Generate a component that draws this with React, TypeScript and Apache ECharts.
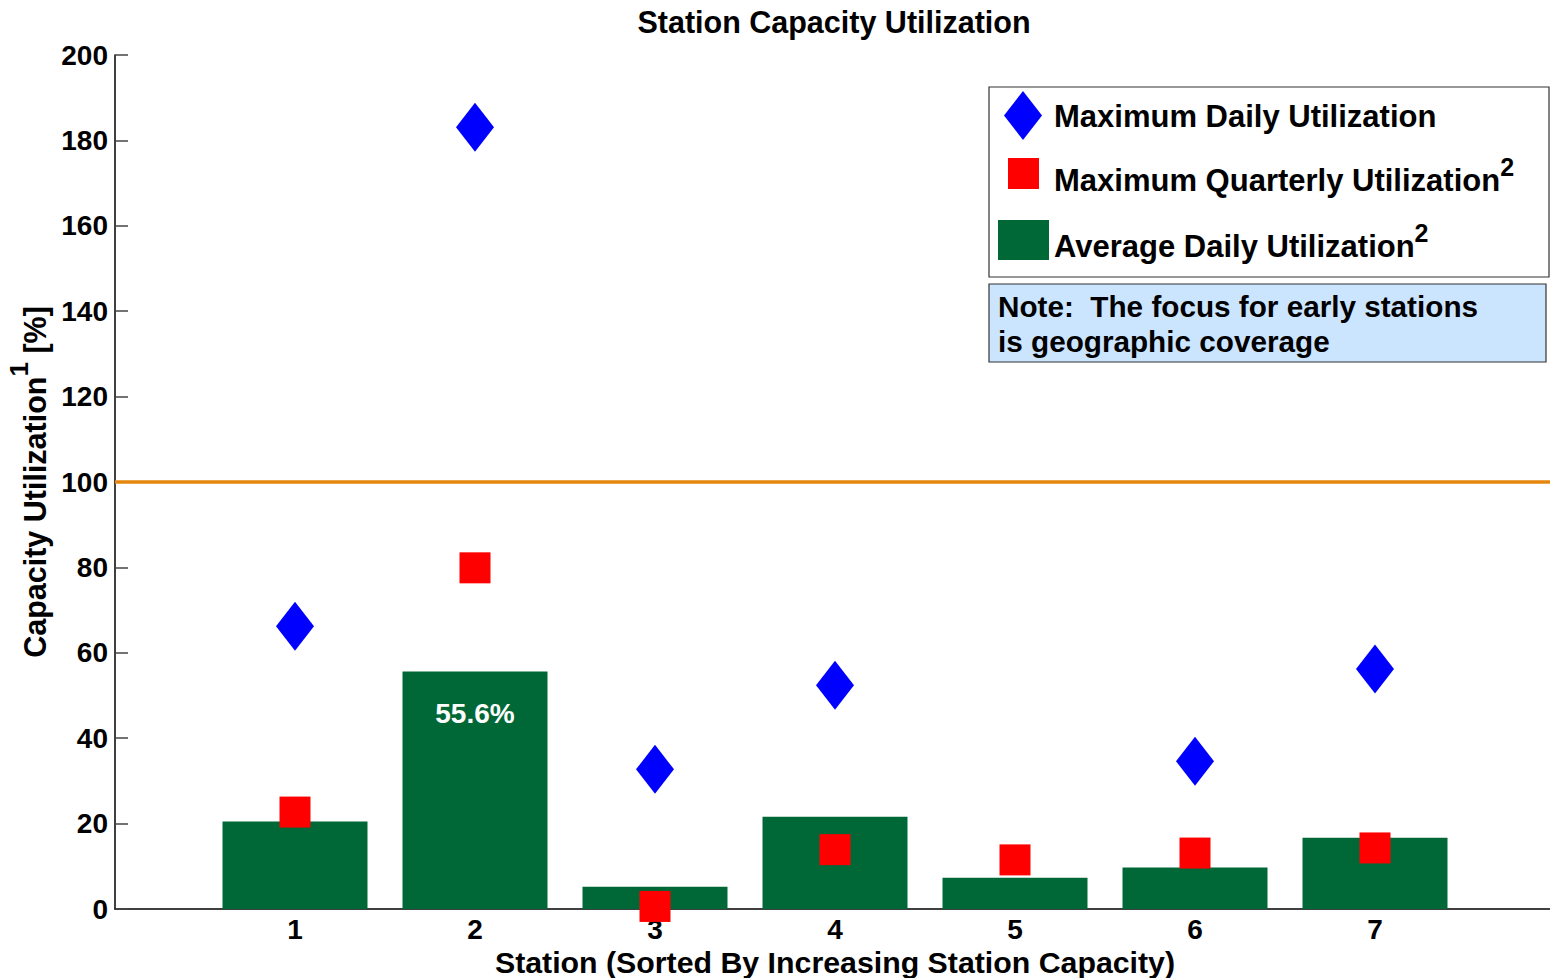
import React, { useEffect, useRef } from "react";
import * as echarts from "echarts";

const stations = [1, 2, 3, 4, 5, 6, 7];
const avgDaily = [20.5, 55.6, 5.2, 21.6, 7.3, 9.7, 16.7];
const maxQuarterly = [22.7, 79.9, 0.6, 13.9, 11.5, 13.1, 14.3];
const maxDaily: (number | null)[] = [66.2, 183.1, 32.7, 52.4, null, 34.6, 56.2];
const referenceLevel = 100;
const labeledStation = 2;

const FONT = "'Liberation Sans', Arial, Helvetica, sans-serif";

export default function App() {
  const ref = useRef<HTMLDivElement>(null);

  useEffect(() => {
    if (!ref.current) return;
    const chart = echarts.init(ref.current, null, { renderer: "svg" });

    const main = { fontSize: 31, fontWeight: "bold", fontFamily: FONT, color: "#000", lineHeight: 52 };
    const sup = { fontSize: 25, fontWeight: "bold", fontFamily: FONT, color: "#000", lineHeight: 24, verticalAlign: "top" };

    const option: any = {
      animation: false,
      backgroundColor: "#fff",
      title: {
        text: "Station Capacity Utilization",
        left: 829,
        textAlign: "center",
        top: 1,
        textStyle: { fontSize: 30.5, fontWeight: "bold", fontFamily: FONT, color: "#000" },
      },
      grid: { left: 115, right: -5, top: 55, bottom: 69, containLabel: false, outerBoundsMode: "none" },
      xAxis: {
        type: "value",
        min: 0,
        max: 8,
        interval: 1,
        name: "Station (Sorted By Increasing Station Capacity)",
        nameLocation: "middle",
        nameGap: 35,
        nameTextStyle: { fontSize: 30.3, fontWeight: "bold", fontFamily: FONT, color: "#000" },
        axisLine: { show: true, lineStyle: { color: "#000", width: 1.5 } },
        axisTick: { show: false },
        splitLine: { show: false },
        axisLabel: {
          margin: 6,
          fontSize: 28,
          fontWeight: "bold",
          fontFamily: FONT,
          color: "#000",
          formatter: (v: number) => (v >= 1 && v <= 7 ? String(v) : ""),
        },
      },
      yAxis: {
        type: "value",
        min: 0,
        max: 200,
        interval: 20,
        name: "{a|Capacity Utilization}{s|1}{a| [%]}",
        nameLocation: "middle",
        nameGap: 50,
        nameRotate: 90,
        nameTextStyle: {
          rich: {
            a: { fontSize: 30.5, fontWeight: "bold", fontFamily: FONT, color: "#000", lineHeight: 58 },
            s: { fontSize: 26, fontWeight: "bold", fontFamily: FONT, color: "#000", lineHeight: 24, verticalAlign: "top" },
          },
        },
        axisLine: { show: true, lineStyle: { color: "#000", width: 1.5 } },
        axisTick: { show: true, inside: true, length: 13, lineStyle: { color: "#444", width: 1.5 } },
        splitLine: { show: false },
        axisLabel: { margin: 7, fontSize: 28, fontWeight: "bold", fontFamily: FONT, color: "#000" },
      },
      series: [
        {
          name: "Average Daily Utilization",
          type: "bar",
          barWidth: 145,
          itemStyle: { color: "#006837" },
          data: stations.map((s, i) => ({
            value: [s, avgDaily[i]],
            label:
              s === labeledStation
                ? {
                    show: true,
                    position: "insideTop",
                    distance: 28,
                    formatter: (p: any) => `${p.value[1].toFixed(1)}%`,
                    color: "#fff",
                    fontSize: 28,
                    fontWeight: "bold",
                    fontFamily: FONT,
                  }
                : { show: false },
          })),
          markLine: {
            silent: true,
            symbol: "none",
            label: { show: false },
            lineStyle: { color: "#E5870F", width: 3.5, type: "solid" },
            data: [{ yAxis: referenceLevel }],
          },
          z: 2,
        },
        {
          name: "Maximum Quarterly Utilization",
          type: "scatter",
          symbol: "rect",
          symbolSize: [31, 31],
          clip: false,
          itemStyle: { color: "#FF0000", opacity: 1 },
          data: stations.map((s, i) => [s, maxQuarterly[i]]),
          z: 3,
        },
        {
          name: "Maximum Daily Utilization",
          type: "scatter",
          symbol: "diamond",
          symbolSize: [38, 49],
          clip: false,
          itemStyle: { color: "#0000FF", opacity: 1 },
          data: stations
            .map((s, i) => (maxDaily[i] == null ? null : [s, maxDaily[i]]))
            .filter((d) => d !== null),
          z: 4,
        },
      ],
      graphic: [
        {
          type: "rect",
          shape: { x: 989, y: 87, width: 560, height: 190 },
          style: { fill: "#fff", stroke: "#333", lineWidth: 1.2 },
          z: 10,
        },
        {
          type: "polygon",
          shape: { points: [[1023, 91], [1042, 115.5], [1023, 140], [1004, 115.5]] },
          style: { fill: "#0000FF" },
          z: 11,
        },
        {
          type: "rect",
          shape: { x: 1008, y: 158, width: 31, height: 31 },
          style: { fill: "#FF0000" },
          z: 11,
        },
        {
          type: "rect",
          shape: { x: 998, y: 220, width: 51, height: 40 },
          style: { fill: "#006837" },
          z: 11,
        },
        {
          type: "text",
          x: 1054,
          y: 90,
          style: {
            text: "{a|Maximum Daily Utilization}",
            rich: { a: main },
            verticalAlign: "top",
          },
          z: 11,
        },
        {
          type: "text",
          x: 1054,
          y: 154,
          style: {
            text: "{a|Maximum Quarterly Utilization}{s|2}",
            rich: { a: main, s: sup },
            verticalAlign: "top",
          },
          z: 11,
        },
        {
          type: "text",
          x: 1054,
          y: 220,
          style: {
            text: "{a|Average Daily Utilization}{s|2}",
            rich: { a: main, s: sup },
            verticalAlign: "top",
          },
          z: 11,
        },
        {
          type: "rect",
          shape: { x: 989, y: 284, width: 557, height: 78 },
          style: { fill: "#CCE5FF", stroke: "#333", lineWidth: 1.2 },
          z: 10,
        },
        {
          type: "text",
          x: 998,
          y: 289,
          style: {
            text: "Note:  The focus for early stations\nis geographic coverage",
            fontSize: 29.7,
            fontWeight: "bold",
            fontFamily: FONT,
            fill: "#000",
            lineHeight: 35,
            verticalAlign: "top",
          },
          z: 11,
        },
      ],
    };

    chart.setOption(option);
    return () => chart.dispose();
  }, []);

  return (
    <div
      ref={ref}
      style={{ position: "fixed", left: 0, top: 0, width: 1550, height: 978, background: "#fff" }}
    />
  );
}
